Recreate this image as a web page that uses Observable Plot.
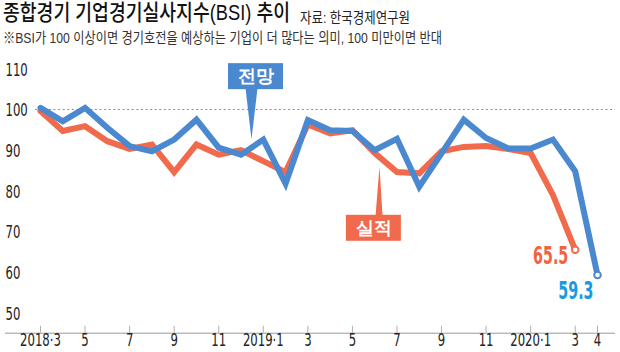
<!DOCTYPE html>
<html><head><meta charset="utf-8">
<script src="https://cdn.jsdelivr.net/npm/d3@7"></script>
<script src="https://cdn.jsdelivr.net/npm/@observablehq/plot@0.6"></script>
<style>
html,body{margin:0;padding:0;background:#fff;}
body{width:620px;height:352px;overflow:hidden;}
#head{position:relative;height:45px;font-family:"Liberation Sans","Noto Sans CJK KR",sans-serif;}
#head span{position:absolute;white-space:nowrap;transform-origin:0 0;display:inline-block;}
#title{left:3px;top:0px;font-size:22px;line-height:25px;font-weight:500;color:#111;}
#src{left:300px;top:9px;font-size:15px;line-height:17px;color:#222;}
#sub{left:3px;top:29px;font-size:15px;line-height:17px;color:#333;}
#chart svg{display:block;}
#chart svg text{font-family:"Liberation Sans Narrow","Arial Narrow","DejaVu Sans Condensed",sans-serif;}
</style></head>
<body>
<div id="head"><span id="title" data-w="287">종합경기 기업경기실사지수(BSI) 추이</span><span id="src" data-w="110">자료: 한국경제연구원</span><span id="sub" data-w="439">※BSI가 100 이상이면 경기호전을 예상하는 기업이 더 많다는 의미, 100 미만이면 반대</span></div>
<div id="chart"></div>
<script>
// Months 2018·3 … 2020·4 (index 0 … 25)
const months = ["2018·3","2018·4","2018·5","2018·6","2018·7","2018·8","2018·9","2018·10","2018·11","2018·12",
  "2019·1","2019·2","2019·3","2019·4","2019·5","2019·6","2019·7","2019·8","2019·9","2019·10","2019·11","2019·12",
  "2020·1","2020·2","2020·3","2020·4"];
// 전망 (forecast)
const forecast = [100.4, 97.1, 100.4, 95.5, 91.0, 89.7, 92.6, 97.5, 90.6, 88.9, 92.6, 81.8, 97.4, 94.9, 94.7, 90.0,
  92.8, 81.0, 89.2, 97.5, 93.0, 90.4, 90.4, 92.6, 84.8, 59.3];
// 실적 (actual)
const actual = [99.6, 94.7, 95.9, 92.2, 90.3, 91.4, 84.6, 91.4, 88.9, 90.0, 87.3, 84.6, 96.3, 94.1, 94.9, 89.3,
  84.6, 84.3, 89.7, 90.8, 91.0, 90.3, 89.3, 79.0, 65.5];
const xTickIndex = [0, 2, 4, 6, 8, 10, 12, 14, 16, 18, 20, 22, 24, 25];
const xTickLabels = ["2018·3","5","7","9","11","2019·1","3","5","7","9","11","2020·1","3","4"];
const yTicks = [50, 60, 70, 80, 90, 100, 110];
const baseline = 100;

const BLUE = "#4a89cf", RED = "#f26a4c";
const callouts = [
  {label: "전망", x: 9.672, y: 108.07, color: BLUE, pointer: [[9.201, 105.2], [9.740, 105.2], [9.470, 92.7]]},
  {label: "실적", x: 14.964, y: 70.79, color: RED, pointer: [[15.04, 74.0], [15.35, 74.0], [15.215, 85.9]]}
];

const xDomain = [-1.571, 25.808];
const yDomain = [45, 110];

const calloutMarks = callouts.flatMap(c => [
  Plot.line(c.pointer, {x: d => d[0], y: d => d[1], fill: c.color, stroke: "none"}),
  Plot.rect([c], {x1: "x", x2: "x", y1: "y", y2: "y", insetLeft: -27.5, insetRight: -27.5, insetTop: -13, insetBottom: -13, fill: c.color}),
  Plot.text([c], {x: "x", y: "y", text: "label", fill: "white", fontSize: 18, fontWeight: "bold", fontFamily: "Noto Sans CJK KR", dy: 0})
]);

const lastA = actual.length - 1, lastF = forecast.length - 1;

const chart = Plot.plot({
  width: 620, height: 307,
  marginLeft: 5, marginRight: 5, marginTop: 23.3, marginBottom: 19.3,
  x: {domain: xDomain, axis: null},
  y: {domain: yDomain, axis: null},
  marks: [
    Plot.ruleY([baseline], {x1: -0.22, x2: xDomain[1], stroke: "#8a8a8a", strokeDasharray: "2,2.6", strokeWidth: 1}),
    Plot.ruleY([yDomain[0]], {stroke: "#9a9a9a", strokeWidth: 1}),
    Plot.ruleX(xTickIndex, {x: d => d, y1: yDomain[0], y2: yDomain[0], insetTop: -7, stroke: "#b0b0b0"}),
    Plot.text(yTicks, {y: d => d, text: d => String(d), frameAnchor: "left", textAnchor: "start", dy: 1, fontSize: 18, fill: "#222"}),
    Plot.text(xTickIndex, {x: d => d, text: (d, k) => xTickLabels[k], frameAnchor: "bottom", dy: 13, fontSize: 18, fill: "#222"}),
    ...calloutMarks,
    Plot.line(actual, {x: (d, i) => i, y: d => d, stroke: RED, strokeWidth: 6, strokeLinejoin: "miter", strokeMiterlimit: 3}),
    Plot.line(forecast, {x: (d, i) => i, y: d => d, stroke: BLUE, strokeWidth: 6, strokeLinejoin: "miter", strokeMiterlimit: 3}),
    Plot.dot([lastA], {x: d => d, y: d => actual[d], r: 3.3, fill: "white", stroke: RED, strokeWidth: 2}),
    Plot.dot([lastF], {x: d => d, y: d => forecast[d], r: 3.3, fill: "white", stroke: BLUE, strokeWidth: 2}),
    Plot.text([lastA], {x: d => d, y: d => actual[d], text: d => actual[d].toFixed(1), textAnchor: "end", dx: -7, dy: 7, fontSize: 24, fontWeight: "bold", fill: "#f0643f"}),
    Plot.text([lastF], {x: d => d, y: d => forecast[d], text: d => forecast[d].toFixed(1), textAnchor: "end", dx: -4, dy: 16, fontSize: 24, fontWeight: "bold", fill: "#1a9be0"})
  ]
});
document.getElementById("chart").appendChild(chart);

function narrow() {
  d3.select(chart).selectAll("text").each(function () {
    if (/[가-힣]/.test(this.textContent)) return;
    this.removeAttribute("textLength");
    const L = this.getComputedTextLength();
    const fs = parseFloat(getComputedStyle(this).fontSize);
    const ratio = fs > 20 ? 0.66 : 0.72;
    if (L > 0) {
      this.setAttribute("textLength", (L * ratio).toFixed(2));
      this.setAttribute("lengthAdjust", "spacingAndGlyphs");
    }
  });
}
function fit() {
  document.querySelectorAll("#head span").forEach(s => {
    s.style.transform = "none";
    const w = s.getBoundingClientRect().width;
    const target = +s.dataset.w;
    if (w > 0) s.style.transform = `scaleX(${target / w})`;
  });
  narrow();
}
fit();
if (document.fonts && document.fonts.ready) document.fonts.ready.then(fit);
</script>
</body></html>
